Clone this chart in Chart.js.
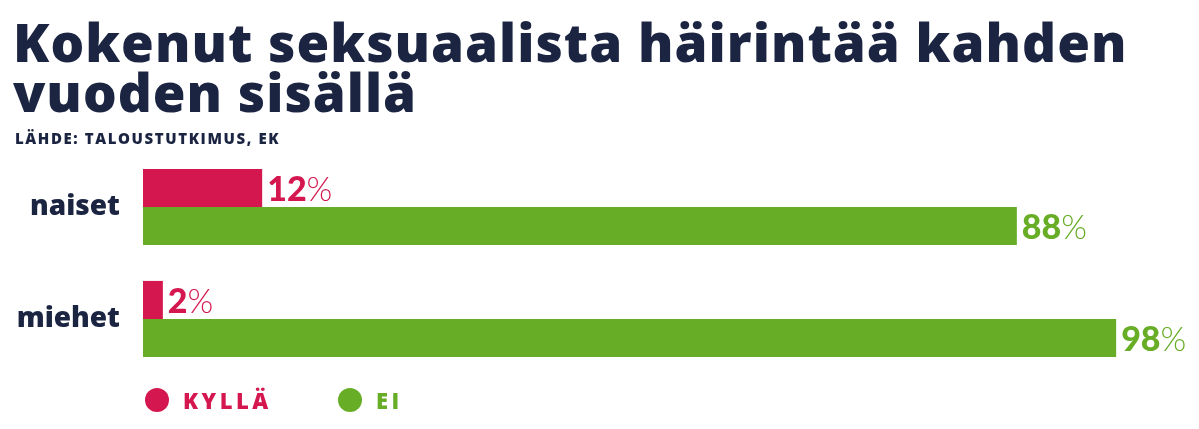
<!DOCTYPE html>
<html>
<head>
<meta charset="utf-8">
<script src="https://cdn.jsdelivr.net/npm/chart.js@4/dist/chart.umd.min.js"></script>
<style>
  html,body{margin:0;padding:0;background:#fff;}
  #wrap{position:relative;width:1199px;height:429px;overflow:hidden;}
  #title{position:absolute;left:13px;top:17px;margin:0;font-family:"Open Sans",sans-serif;font-weight:800;font-size:53px;line-height:50px;color:#1b2542;letter-spacing:1px;white-space:nowrap;}
  #source{position:absolute;left:15px;top:128px;font-family:"Open Sans",sans-serif;font-weight:800;font-size:15px;color:#1b2542;letter-spacing:1.6px;}
  #chartbox{position:absolute;left:0;top:0;width:1199px;height:429px;}
  #legend{position:absolute;left:145px;top:385px;font-family:"Open Sans",sans-serif;font-weight:800;font-size:22px;letter-spacing:3.5px;display:flex;}
  .li{display:flex;align-items:center;}
  .li:first-child{width:193px;}
  .dot{width:24px;height:24px;border-radius:50%;margin-right:14px;}
</style>
</head>
<body>
<div id="wrap">
  <div id="chartbox"><canvas id="c"></canvas></div>
  <h1 id="title">Kokenut seksuaalista häirintää kahden<br>vuoden sisällä</h1>
  <div id="source">LÄHDE: TALOUSTUTKIMUS, EK</div>
  <div id="legend"></div>
</div>
<script>
const categories = ["naiset", "miehet"];
const seriesNames = ["KYLLÄ", "EI"];
const kyllaValues = [12, 2];
const eiValues = [88, 98];
const seriesColors = ["#d4174f", "#67ad26"];

const legendEl = document.getElementById('legend');
seriesNames.forEach((n, i) => {
  const d = document.createElement('div');
  d.className = 'li';
  d.innerHTML = '<span class="dot" style="background:' + seriesColors[i] + '"></span><span style="color:' + seriesColors[i] + '">' + n + '</span>';
  legendEl.appendChild(d);
});

const valueLabels = {
  id: 'valueLabels',
  afterDatasetsDraw(chart) {
    const ctx = chart.ctx;
    chart.data.datasets.forEach((ds, di) => {
      const meta = chart.getDatasetMeta(di);
      meta.data.forEach((el, i) => {
        const v = ds.data[i];
        ctx.save();
        ctx.fillStyle = seriesColors[di];
        ctx.textBaseline = 'middle';
        ctx.textAlign = 'left';
        let x = el.x + 5;
        const y = el.y + 2;
        ctx.font = '900 34px Lato';
        const num = String(v);
        ctx.fillText(num, x, y);
        x += ctx.measureText(num).width;
        ctx.font = '300 33px Lato';
        ctx.fillText('%', x, y);
        ctx.restore();
      });
    });
  }
};

new Chart(document.getElementById('c'), {
  type: 'bar',
  data: {
    labels: categories,
    datasets: [
      { label: seriesNames[0], data: kyllaValues, backgroundColor: seriesColors[0] },
      { label: seriesNames[1], data: eiValues, backgroundColor: seriesColors[1] }
    ]
  },
  options: {
    indexAxis: 'y',
    responsive: true,
    maintainAspectRatio: false,
    animation: false,
    devicePixelRatio: 1,
    layout: { padding: { left: 0, right: 61, top: 151, bottom: 54 } },
    datasets: { bar: { categoryPercentage: 0.68, barPercentage: 1.0, borderWidth: 0 } },
    plugins: { legend: { display: false }, tooltip: { enabled: false } },
    scales: {
      x: { display: false, min: 0, max: 100.2 },
      y: {
        grid: { display: false, drawTicks: false },
        border: { display: false },
        afterFit(scale) { scale.width = 143; },
        ticks: {
          padding: 23,
          color: '#1b2542',
          font: { family: 'Open Sans', weight: '800', size: 28 }
        }
      }
    }
  },
  plugins: [valueLabels]
});
</script>
</body>
</html>
